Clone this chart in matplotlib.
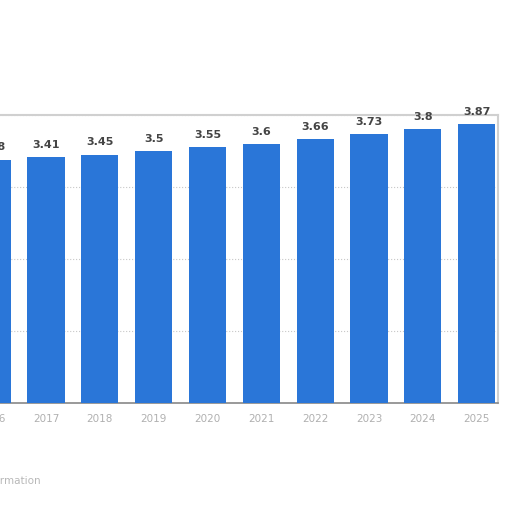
import matplotlib.pyplot as plt

# values
years = ['2016', '2017', '2018', '2019', '2020', '2021', '2022', '2023', '2024', '2025']
values = [3.38, 3.41, 3.45, 3.5, 3.55, 3.6, 3.66, 3.73, 3.8, 3.87]
value_labels = ['3.38', '3.41', '3.45', '3.5', '3.55', '3.6', '3.66', '3.73', '3.8', '3.87']

fig = plt.figure(figsize=(5.12, 5.12), dpi=100)
# chart is cropped on the left, so the axes start outside the figure
ax = fig.add_axes([-0.068, 0.213, 1.041, 0.5625])

x = range(len(years))
bars = ax.bar(x, values, width=0.69, color='#2a76d8', zorder=3)

# value labels on top of the bars
for b, lab in zip(bars, value_labels):
    ax.text(b.get_x() + b.get_width() / 2, b.get_height() + 0.1, lab,
            ha='center', va='bottom', fontsize=8, fontweight='bold', color='#444444')

ax.set_xlim(-0.5, 9.4)
ax.set_ylim(0, 4)
ax.set_xticks(list(x))
ax.set_xticklabels(years, fontsize=7.5, color='#b0b0b0')
ax.set_yticks([0, 1, 2, 3, 4])
ax.set_yticklabels([])
ax.tick_params(length=0, pad=8)
ax.grid(axis='y', linestyle=':', color='#c8c8c8', linewidth=0.8, zorder=0)

for side in ['top', 'left', 'right']:
    ax.spines[side].set_color('#d0d0d0')
    ax.spines[side].set_linewidth(1.5)
ax.spines['bottom'].set_color('#888888')
ax.spines['bottom'].set_linewidth(1.2)

# footer, mostly cropped away
fig.text(0.08, 0.06, 'Additional Information', ha='right', va='center',
         fontsize=7.5, color='#b8b8b8')

plt.savefig('out.png', dpi=100)
